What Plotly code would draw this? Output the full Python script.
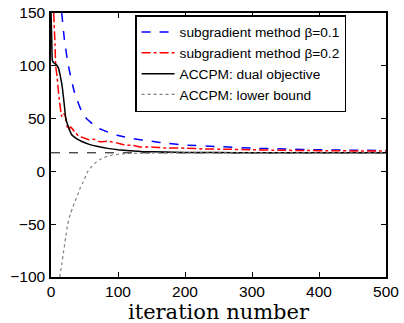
import plotly.graph_objects as go

# subgradient method beta=0.1
it_b1 = [16, 20, 26, 35, 45, 53, 62, 70, 80, 88, 100, 123, 150, 175, 200, 250, 300, 350, 400, 450, 500]
val_b1 = [150, 125, 100, 75, 58, 50, 45, 41, 38.5, 36.5, 34, 31, 28.5, 26.5, 25, 23.5, 22, 21.2, 20.5, 20.1, 19.8]

# subgradient method beta=0.2
it_b2 = [4, 6, 7, 9, 12, 16, 18, 21, 24, 26, 29, 31, 36, 42, 48, 56, 64, 73, 85, 98, 110, 123, 135, 150, 170, 200, 230, 260, 300, 340, 380, 420, 460, 500]
val_b2 = [150, 120, 100, 90, 70, 52, 55, 53, 43, 39, 42, 41, 37, 33, 32, 30, 30.5, 28, 28.5, 27, 25, 24.5, 23, 23.2, 22.2, 22, 21.2, 21, 20.5, 20, 19.8, 19.5, 19.4, 19.2]

# ACCPM: dual objective
it_dual = [0, 1, 2, 4, 8, 11, 14, 17, 20, 22, 26, 31, 38, 46, 57, 70, 85, 100, 135, 170, 200, 250, 300, 400, 500]
val_dual = [150, 128, 105, 103, 101, 98, 90, 79, 62, 50.5, 42, 34.7, 31, 28.3, 25.6, 23.6, 21.8, 20.5, 18.9, 18.3, 18.0, 17.8, 17.7, 17.6, 17.6]

# ACCPM: lower bound
it_lb = [13, 16, 19, 22, 25, 29, 32, 36, 40, 44, 48, 55, 60, 66, 75, 88, 100, 110, 130, 150, 200, 300, 400, 500]
val_lb = [-100, -88, -75, -62, -50, -40, -35, -28, -22, -15, -10, 0, 4, 8, 12, 15, 16.2, 16.8, 17.2, 17.4, 17.6, 17.6, 17.6, 17.6]

p_star = 17.6

x_ticks = [0, 100, 200, 300, 400, 500]
y_ticks = [-100, -50, 0, 50, 100, 150]
x_title = "iteration number"

fig = go.Figure()
fig.add_trace(go.Scatter(x=it_b1, y=val_b1, mode="lines", name="subgradient method β=0.1",
                         line=dict(color="#0000ff", width=1.5, dash="dash", shape="spline", smoothing=0.6)))
fig.add_trace(go.Scatter(x=it_b2, y=val_b2, mode="lines", name="subgradient method β=0.2",
                         line=dict(color="#ff0000", width=1.5, dash="dashdot", shape="spline", smoothing=0.4)))
fig.add_trace(go.Scatter(x=it_dual, y=val_dual, mode="lines", name="ACCPM: dual objective",
                         line=dict(color="#000000", width=1.5, shape="spline", smoothing=0.3)))
fig.add_trace(go.Scatter(x=it_lb, y=val_lb, mode="lines", name="ACCPM: lower bound",
                         line=dict(color="#808080", width=1.2, dash="dot", shape="spline", smoothing=0.5)))
fig.add_hline(y=p_star, line=dict(color="#000000", width=1, dash="dash"), layer="below")

axis_common = dict(showgrid=False, zeroline=False, showline=True, linecolor="black", linewidth=1.5,
                   mirror="ticks", ticks="inside", ticklen=5, tickcolor="black", tickwidth=1,
                   automargin=False,
                   tickfont=dict(family="Liberation Sans, Arial", size=15.5, color="black"))

fig.update_layout(
    width=404, height=323,
    margin=dict(l=51, r=18, t=13, b=46),
    paper_bgcolor="white", plot_bgcolor="white",
    xaxis=dict(range=[0, 500], tickvals=x_ticks, **axis_common),
    yaxis=dict(range=[-100, 150], tickvals=y_ticks, ticklabelstandoff=1, **axis_common),
    legend=dict(x=0.251, y=0.992, xanchor="left", yanchor="top", bgcolor="white",
                bordercolor="black", borderwidth=1.5,
                font=dict(family="Liberation Sans, Arial", size=13.7, color="black"),
                tracegroupgap=0, itemwidth=33),
    showlegend=True,
)
fig.add_annotation(text=x_title, xref="paper", yref="paper", x=0.5, y=0, xanchor="center",
                   yanchor="top", yshift=-22, borderpad=0, showarrow=False,
                   font=dict(family="DejaVu Serif", size=21, color="black"))

fig.write_html("out.html", config={"displayModeBar": False},
               post_script="document.body.style.margin='0px';document.body.style.padding='0px';")
